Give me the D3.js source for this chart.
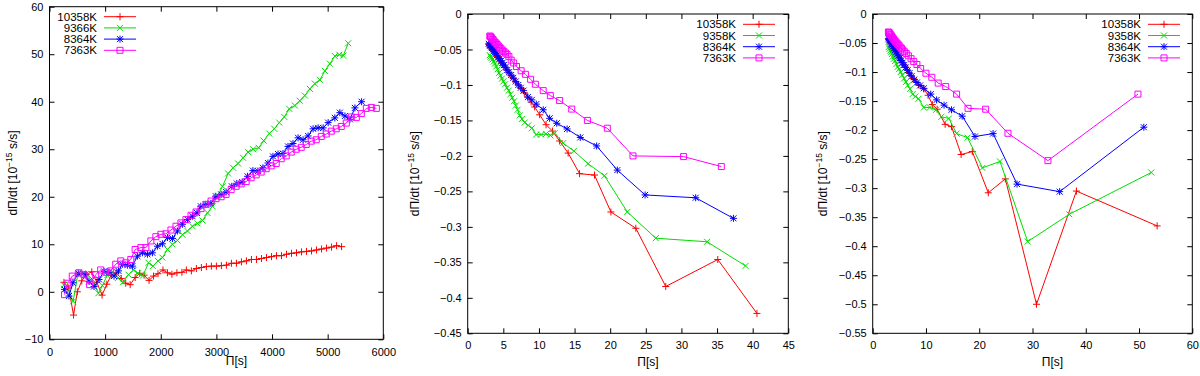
<!DOCTYPE html>
<html>
<head>
<meta charset="utf-8">
<script src="https://d3js.org/d3.v7.min.js"></script>
<style>
body { margin: 0; background: #fff; }
text { font-family: "Liberation Sans", Arial, sans-serif; }
</style>
</head>
<body>
<div id="chart"></div>
<script>
// legend labels
var names1 = ["10358K", "9366K", "8364K", "7363K"];
var names23 = ["10358K", "9358K", "8364K", "7363K"];

// tick values
var xTicks1 = [0, 1000, 2000, 3000, 4000, 5000, 6000];
var yTicks1 = [-10, 0, 10, 20, 30, 40, 50, 60];
var xTicks2 = [0, 5, 10, 15, 20, 25, 30, 35, 40, 45];
var yTicks2 = [0, -0.05, -0.1, -0.15, -0.2, -0.25, -0.3, -0.35, -0.4, -0.45];
var xTicks3 = [0, 10, 20, 30, 40, 50, 60];
var yTicks3 = [0, -0.05, -0.1, -0.15, -0.2, -0.25, -0.3, -0.35, -0.4, -0.45, -0.5, -0.55];

// left panel: [Pi (s), dPi/dt (1e-15 s/s)]
var p1_10358 = [[260,2.0],[345,0.8],[432,-4.9],[500,0.0],[580,2.3],[660,3.6],[760,4.2],[850,2.0],[945,-0.7],[1030,1.6],[1110,3.5],[1200,4.0],[1290,2.8],[1370,1.8],[1450,1.5],[1540,3.0],[1620,3.9],[1700,3.5],[1790,2.4],[1870,3.3],[1950,3.8],[2040,4.6],[2120,4.0],[2200,3.7],[2290,4.0],[2380,4.1],[2460,4.6],[2550,4.4],[2640,4.9],[2730,5.1],[2820,5.3],[2910,5.4],[3000,5.4],[3090,5.5],[3180,5.6],[3270,6.0],[3360,6.0],[3450,6.3],[3540,6.5],[3630,6.8],[3720,6.8],[3810,7.0],[3900,7.2],[3990,7.4],[4080,7.6],[4170,7.6],[4260,7.9],[4350,8.1],[4440,8.2],[4530,8.4],[4620,8.5],[4710,8.6],[4800,8.8],[4890,9.0],[4980,9.2],[5070,9.4],[5160,9.7],[5250,9.5]];
var p1_9366 = [[260,1.4],[340,0.5],[425,-2.0],[510,3.7],[600,3.9],[680,3.6],[770,2.6],[880,-0.3],[950,1.3],[1040,3.5],[1130,4.2],[1230,2.9],[1320,2.0],[1420,3.6],[1510,4.6],[1590,3.9],[1680,3.4],[1780,6.1],[1860,5.4],[1950,6.5],[2030,7.2],[2120,8.9],[2210,10.0],[2300,10.8],[2390,12.0],[2480,12.8],[2570,13.8],[2660,14.4],[2750,15.0],[2840,16.6],[2930,18.0],[3020,20.2],[3110,22.2],[3210,24.9],[3300,26.1],[3390,27.0],[3480,28.2],[3570,29.4],[3660,30.0],[3760,30.3],[3850,31.8],[3950,33.3],[4040,34.3],[4130,35.6],[4220,36.8],[4310,38.5],[4410,39.2],[4500,40.2],[4590,41.3],[4680,42.7],[4770,43.8],[4860,44.6],[4950,46.5],[5040,48.0],[5130,49.6],[5210,49.9],[5280,49.7],[5370,52.3]];
var p1_8364 = [[270,0.5],[350,-0.9],[420,1.9],[517,3.9],[637,3.6],[710,2.2],[800,1.1],[890,2.6],[980,4.3],[1070,4.1],[1160,3.3],[1240,4.4],[1311,5.8],[1400,5.6],[1490,5.4],[1580,7.5],[1670,8.2],[1760,7.9],[1850,8.2],[1940,9.6],[2030,10.1],[2120,11.4],[2210,11.2],[2300,12.8],[2390,14.2],[2480,15.2],[2570,15.9],[2650,16.6],[2720,18.0],[2810,18.4],[2900,18.6],[2990,20.1],[3085,20.5],[3175,21.0],[3277,22.2],[3367,22.8],[3464,23.1],[3560,24.3],[3656,25.5],[3746,25.4],[3836,26.1],[3927,27.1],[4017,28.5],[4107,29.0],[4197,29.1],[4287,30.6],[4377,31.2],[4468,32.4],[4558,32.0],[4648,32.8],[4738,34.3],[4829,34.5],[4919,34.5],[5009,35.6],[5129,36.6],[5219,37.7],[5310,37.0],[5400,36.3],[5490,38.7],[5610,40.0]];
var p1_7363 = [[270,-0.6],[330,1.8],[409,3.3],[529,4.0],[620,3.6],[722,1.5],[830,3.6],[920,4.6],[1010,4.1],[1100,4.4],[1190,5.8],[1281,6.5],[1371,6.1],[1461,6.8],[1539,8.9],[1642,9.3],[1732,9.3],[1822,10.7],[1912,11.6],[2002,12.1],[2093,12.2],[2183,13.0],[2273,13.8],[2363,14.5],[2453,15.2],[2544,16.1],[2634,16.8],[2724,17.5],[2814,18.4],[2904,19.1],[2994,19.6],[3085,20.0],[3175,20.5],[3265,21.5],[3355,22.2],[3445,22.7],[3535,23.2],[3625,24.0],[3715,24.6],[3805,25.2],[3895,25.9],[3985,26.5],[4075,27.0],[4165,28.0],[4255,28.6],[4345,29.4],[4435,30.0],[4525,30.4],[4615,31.0],[4705,31.7],[4795,32.0],[4885,32.7],[4975,33.2],[5065,33.8],[5155,34.3],[5245,34.8],[5335,35.5],[5425,36.8],[5515,36.7],[5605,37.5],[5695,38.6],[5785,38.8],[5875,38.6]];

// middle panel
var p2_10358 = [[3.0,-0.043],[3.12,-0.045],[3.25,-0.047],[3.38,-0.049],[3.52,-0.051],[3.67,-0.053],[3.83,-0.055],[4.0,-0.058],[4.18,-0.060],[4.37,-0.063],[4.57,-0.066],[4.78,-0.069],[5.0,-0.072],[5.25,-0.075],[5.5,-0.079],[5.78,-0.083],[6.08,-0.087],[6.4,-0.091],[6.75,-0.096],[7.1,-0.100],[7.5,-0.105],[7.95,-0.111],[8.4,-0.117],[8.9,-0.124],[9.4,-0.131],[10.1,-0.142],[11.0,-0.156],[11.9,-0.165],[12.9,-0.179],[14.1,-0.196],[15.7,-0.225],[17.8,-0.227],[20.1,-0.279],[23.6,-0.302],[27.8,-0.384],[35.1,-0.346],[40.6,-0.422]];
var p2_9358 = [[3.1,-0.058],[3.22,-0.060],[3.35,-0.062],[3.5,-0.064],[3.65,-0.067],[3.82,-0.070],[4.0,-0.074],[4.2,-0.078],[4.4,-0.083],[4.6,-0.087],[4.8,-0.091],[5.0,-0.095],[5.25,-0.099],[5.5,-0.104],[5.75,-0.108],[6.0,-0.113],[6.25,-0.118],[6.5,-0.123],[6.75,-0.129],[7.0,-0.135],[7.3,-0.143],[7.6,-0.148],[8.0,-0.153],[8.5,-0.157],[9.0,-0.161],[9.6,-0.170],[10.3,-0.170],[11.0,-0.169],[11.6,-0.171],[12.2,-0.168],[13.4,-0.182],[14.9,-0.193],[16.9,-0.211],[19.2,-0.228],[22.4,-0.279],[26.4,-0.316],[33.6,-0.321],[39.0,-0.355]];
var p2_8364 = [[2.95,-0.042],[3.06,-0.044],[3.18,-0.045],[3.3,-0.047],[3.42,-0.048],[3.55,-0.050],[3.68,-0.052],[3.82,-0.054],[3.97,-0.056],[4.13,-0.058],[4.3,-0.061],[4.48,-0.063],[4.67,-0.066],[4.87,-0.069],[5.08,-0.072],[5.3,-0.075],[5.55,-0.079],[5.8,-0.082],[6.1,-0.086],[6.4,-0.090],[6.75,-0.095],[7.1,-0.100],[7.45,-0.104],[7.84,-0.108],[8.45,-0.117],[9.0,-0.121],[9.63,-0.127],[10.6,-0.135],[11.5,-0.147],[12.5,-0.154],[13.95,-0.162],[15.8,-0.174],[18.1,-0.186],[21.0,-0.220],[24.9,-0.255],[32.0,-0.259],[37.3,-0.288]];
var p2_7363 = [[3.1,-0.031],[3.2,-0.032],[3.3,-0.033],[3.42,-0.035],[3.55,-0.036],[3.68,-0.038],[3.82,-0.040],[3.97,-0.041],[4.13,-0.043],[4.3,-0.045],[4.48,-0.047],[4.67,-0.049],[4.87,-0.051],[5.08,-0.053],[5.3,-0.055],[5.53,-0.057],[5.78,-0.060],[6.1,-0.065],[6.45,-0.069],[6.85,-0.074],[7.5,-0.080],[8.1,-0.085],[8.83,-0.092],[9.5,-0.099],[10.6,-0.108],[11.6,-0.115],[12.9,-0.122],[14.6,-0.134],[16.8,-0.150],[19.6,-0.161],[23.2,-0.200],[30.3,-0.201],[35.6,-0.215]];

// right panel
var p3_10358 = [[3.0,-0.044],[3.15,-0.046],[3.3,-0.049],[3.45,-0.051],[3.6,-0.054],[3.8,-0.057],[4.0,-0.060],[4.2,-0.063],[4.45,-0.067],[4.7,-0.071],[4.95,-0.075],[5.2,-0.079],[5.5,-0.083],[5.8,-0.087],[6.1,-0.091],[6.45,-0.096],[6.8,-0.101],[7.2,-0.106],[7.6,-0.111],[8.1,-0.117],[8.6,-0.122],[9.6,-0.129],[10.4,-0.140],[11.2,-0.156],[12.1,-0.164],[13.6,-0.190],[14.8,-0.194],[16.6,-0.242],[18.7,-0.237],[21.7,-0.308],[24.9,-0.284],[30.75,-0.500],[38.25,-0.305],[53.4,-0.365]];
var p3_9358 = [[3.0,-0.057],[3.15,-0.060],[3.3,-0.063],[3.45,-0.066],[3.6,-0.069],[3.8,-0.073],[4.0,-0.077],[4.2,-0.081],[4.45,-0.086],[4.7,-0.091],[4.95,-0.095],[5.25,-0.100],[5.55,-0.105],[5.9,-0.111],[6.25,-0.117],[6.6,-0.123],[7.0,-0.129],[7.5,-0.138],[8.0,-0.142],[8.6,-0.146],[9.6,-0.161],[10.75,-0.161],[11.9,-0.165],[12.9,-0.177],[14.3,-0.180],[15.75,-0.206],[17.8,-0.213],[20.6,-0.265],[23.9,-0.254],[29.1,-0.392],[36.9,-0.345],[52.3,-0.273]];
var p3_8364 = [[2.95,-0.042],[3.08,-0.044],[3.2,-0.046],[3.35,-0.048],[3.5,-0.051],[3.65,-0.053],[3.82,-0.056],[4.0,-0.059],[4.2,-0.062],[4.4,-0.065],[4.62,-0.069],[4.85,-0.072],[5.1,-0.076],[5.35,-0.080],[5.6,-0.084],[5.9,-0.088],[6.2,-0.092],[6.55,-0.097],[6.9,-0.102],[7.3,-0.107],[7.8,-0.113],[8.3,-0.118],[8.9,-0.123],[9.6,-0.128],[10.9,-0.138],[12.0,-0.148],[13.4,-0.157],[14.8,-0.165],[16.8,-0.176],[19.2,-0.211],[22.6,-0.206],[27.1,-0.293],[35.1,-0.306],[50.9,-0.195]];
var p3_7363 = [[2.95,-0.031],[3.05,-0.032],[3.15,-0.033],[3.27,-0.035],[3.4,-0.036],[3.53,-0.038],[3.67,-0.040],[3.82,-0.042],[3.98,-0.044],[4.15,-0.046],[4.33,-0.048],[4.52,-0.050],[4.72,-0.052],[4.93,-0.054],[5.15,-0.057],[5.4,-0.059],[5.65,-0.062],[5.95,-0.065],[6.3,-0.068],[6.7,-0.072],[7.2,-0.077],[7.7,-0.082],[8.3,-0.087],[9.0,-0.094],[10.0,-0.102],[11.1,-0.109],[12.3,-0.119],[13.7,-0.125],[15.75,-0.138],[17.9,-0.1625],[21.2,-0.164],[25.4,-0.2055],[32.9,-0.2526],[49.8,-0.138]];

var width = 1200, height = 376;
var colors = ["#ff0000", "#00dd00", "#0000ff", "#ff00ff"];
var shapes = ["plus", "cross", "star", "square"];

var svg = d3.select("#chart")
    .append("svg")
    .attr("width", width)
    .attr("height", height);

// gnuplot style point symbols
function symbolPath(type, x, y) {
    var p = "", s = 3.5, c = 3;
    if (type == "plus" || type == "star")
        p += "M" + (x - s) + "," + y + "h" + (2 * s) + "M" + x + "," + (y - s) + "v" + (2 * s);
    if (type == "cross" || type == "star")
        p += "M" + (x - c) + "," + (y - c) + "l" + (2 * c) + "," + (2 * c) + "M" + (x - c) + "," + (y + c) + "l" + (2 * c) + "," + (-2 * c);
    if (type == "square")
        p += "M" + (x - c) + "," + (y - c) + "h" + (2 * c) + "v" + (2 * c) + "h" + (-2 * c) + "Z";
    return p;
}

var panels = [
    { left: 49.5, right: 383.3, top: 6.7, bottom: 339.3, xDomain: [0, 6000], yDomain: [-10, 60],
      xTicks: xTicks1, yTicks: yTicks1, names: names1, series: [p1_10358, p1_9366, p1_8364, p1_7363],
      legend: { textRight: 97, lineX: 104, y0: 16.7 }, yLabelX: 13, xLabelY: 365, tickPad: 9 },
    { left: 467.7, right: 788.3, top: 14, bottom: 333.3, xDomain: [0, 45], yDomain: [-0.45, 0],
      xTicks: xTicks2, yTicks: yTicks2, names: names23, series: [p2_10358, p2_9358, p2_8364, p2_7363],
      legend: { textRight: 736, lineX: 743, y0: 24.3 }, yLabelX: 415, xLabelY: 366, tickPad: 8 },
    { left: 872.7, right: 1192.3, top: 14, bottom: 333.3, xDomain: [0, 60], yDomain: [-0.55, 0],
      xTicks: xTicks3, yTicks: yTicks3, names: names23, series: [p3_10358, p3_9358, p3_8364, p3_7363],
      legend: { textRight: 1141, lineX: 1148, y0: 24.3 }, yLabelX: 823, xLabelY: 366, tickPad: 8 }
];

panels.forEach(drawPanel);

function drawPanel(p) {
    var x = d3.scaleLinear().domain(p.xDomain).range([p.left, p.right]);
    var y = d3.scaleLinear().domain(p.yDomain).range([p.bottom, p.top]);
    var fmt = d3.format("~g");
    var g = svg.append("g");

    function styleAxis(a) {
        a.select(".domain").remove();
        a.selectAll("line").attr("stroke", "#000");
        a.selectAll("text").style("font-family", "'Liberation Sans', Arial, sans-serif")
            .style("font-size", "11px").attr("fill", "#000");
    }

    // inward ticks on all four sides
    g.append("g").attr("transform", "translate(0," + p.bottom + ")")
        .call(d3.axisBottom(x).tickValues(p.xTicks).tickSize(-5).tickPadding(p.tickPad).tickFormat(fmt))
        .call(styleAxis);
    g.append("g").attr("transform", "translate(0," + p.top + ")")
        .call(d3.axisTop(x).tickValues(p.xTicks).tickSize(-5).tickFormat(""))
        .call(styleAxis);
    g.append("g").attr("transform", "translate(" + p.left + ",0)")
        .call(d3.axisLeft(y).tickValues(p.yTicks).tickSize(-5).tickPadding(6).tickFormat(fmt))
        .call(styleAxis);
    g.append("g").attr("transform", "translate(" + p.right + ",0)")
        .call(d3.axisRight(y).tickValues(p.yTicks).tickSize(-5).tickFormat(""))
        .call(styleAxis);

    g.append("rect")
        .attr("x", p.left).attr("y", p.top)
        .attr("width", p.right - p.left).attr("height", p.bottom - p.top)
        .attr("fill", "none").attr("stroke", "#000").attr("stroke-width", 1);

    var line = d3.line()
        .x(function (d) { return x(d[0]); })
        .y(function (d) { return y(d[1]); });

    p.series.forEach(function (data, i) {
        var s = g.append("g");
        s.append("path")
            .datum(data)
            .attr("d", line)
            .attr("fill", "none")
            .attr("stroke", colors[i])
            .attr("stroke-width", 1);
        s.append("path")
            .attr("d", data.map(function (d) { return symbolPath(shapes[i], x(d[0]), y(d[1])); }).join(""))
            .attr("fill", "none")
            .attr("stroke", colors[i])
            .attr("stroke-width", 1);

        // legend entry
        var ly = p.legend.y0 + i * 11.2;
        s.append("text")
            .attr("x", p.legend.textRight).attr("y", ly).attr("dy", "0.36em")
            .attr("text-anchor", "end")
            .style("font-size", "11.5px")
            .text(p.names[i]);
        s.append("line")
            .attr("x1", p.legend.lineX).attr("x2", p.legend.lineX + 32)
            .attr("y1", ly).attr("y2", ly)
            .attr("stroke", colors[i]);
        s.append("path")
            .attr("d", symbolPath(shapes[i], p.legend.lineX + 16, ly))
            .attr("fill", "none")
            .attr("stroke", colors[i]);
    });

    // axis titles
    var cy = (p.top + p.bottom) / 2;
    var yl = g.append("text")
        .attr("transform", "translate(" + p.yLabelX + "," + cy + ") rotate(-90)")
        .attr("text-anchor", "middle")
        .attr("dy", "0.36em")
        .style("font-size", "12px");
    yl.append("tspan").text("d\u03a0/dt [10");
    yl.append("tspan").attr("dy", -5).style("font-size", "8.5px").text("\u221215");
    yl.append("tspan").attr("dy", 5).text(" s/s]");

    g.append("text")
        .attr("x", (p.left + p.right) / 2 + 20)
        .attr("y", p.xLabelY)
        .attr("text-anchor", "middle")
        .style("font-size", "12px")
        .text("\u03a0[s]");
}
</script>
</body>
</html>
